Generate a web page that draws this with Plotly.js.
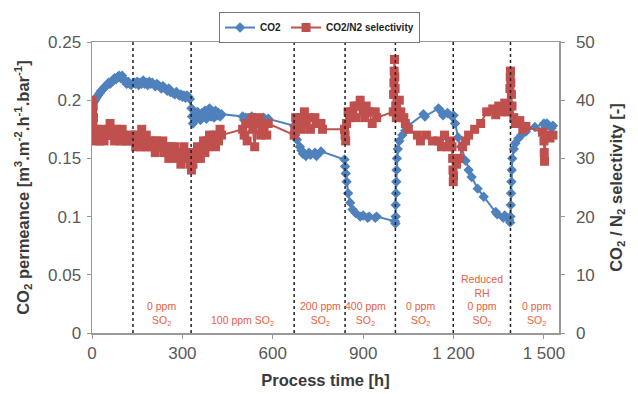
<!DOCTYPE html>
<html>
<head>
<meta charset="utf-8">
<script src="https://cdn.plot.ly/plotly-3.0.1.min.js"></script>
<style>html,body{margin:0;padding:0;background:#fff;}#chart{width:638px;height:394px;}</style>
</head>
<body>
<div id="chart"></div>
<script>
// CO2 permeance series (left axis)
const hoursCO2 = [0,5,10,15,20,25,30,35,40,45,50,55,60,65,70,75,80,85,90,95,100,105,110,115,120,125,130,140,145,150,155,160,165,170,175,180,185,190,195,200,210,215,220,230,235,240,250,255,260,270,275,280,290,295,300,305,310,315,320,325,330,332,335,340,345,350,355,360,365,370,375,380,385,390,395,400,405,410,415,420,425,430,500,505,510,530,535,540,555,560,570,580,585,671,675,680,690,695,700,710,720,725,740,745,760,838,840,842,845,850,857,865,875,890,900,915,920,940,945,1005,1007,1008,1008,1009,1010,1011,1012,1015,1020,1030,1040,1050,1100,1105,1150,1160,1165,1180,1195,1200,1205,1215,1225,1240,1250,1260,1280,1300,1340,1345,1365,1370,1385,1388,1389,1390,1391,1392,1393,1395,1400,1405,1415,1425,1440,1470,1500,1505,1510,1525,1530];
const co2Permeance = [0.195,0.198,0.200,0.202,0.204,0.206,0.208,0.209,0.211,0.212,0.213,0.215,0.214,0.216,0.217,0.219,0.218,0.220,0.221,0.219,0.221,0.218,0.216,0.214,0.216,0.214,0.213,0.215,0.214,0.216,0.213,0.215,0.214,0.217,0.214,0.215,0.213,0.216,0.214,0.215,0.212,0.214,0.213,0.210,0.212,0.211,0.208,0.210,0.207,0.206,0.205,0.207,0.204,0.205,0.203,0.204,0.202,0.204,0.203,0.201,0.193,0.186,0.180,0.188,0.184,0.190,0.185,0.183,0.189,0.186,0.191,0.184,0.188,0.193,0.186,0.190,0.185,0.191,0.187,0.189,0.186,0.188,0.186,0.183,0.185,0.186,0.183,0.185,0.184,0.182,0.185,0.182,0.184,0.178,0.170,0.166,0.160,0.157,0.154,0.152,0.155,0.153,0.155,0.152,0.156,0.149,0.143,0.137,0.130,0.120,0.112,0.106,0.103,0.100,0.101,0.099,0.100,0.099,0.100,0.096,0.094,0.100,0.110,0.120,0.130,0.140,0.150,0.158,0.165,0.170,0.174,0.178,0.188,0.186,0.193,0.190,0.187,0.189,0.186,0.187,0.180,0.168,0.160,0.148,0.140,0.134,0.124,0.117,0.104,0.102,0.099,0.101,0.097,0.095,0.100,0.110,0.120,0.130,0.140,0.150,0.158,0.163,0.167,0.170,0.173,0.177,0.180,0.177,0.180,0.176,0.178];

// CO2/N2 selectivity series (right axis)
const hoursSel = [0,2,3,4,5,6,8,10,15,20,25,30,35,40,45,50,55,60,65,70,75,80,85,90,95,100,105,110,120,130,136,140,145,150,155,160,165,170,175,180,185,190,200,205,210,215,220,230,235,240,250,255,260,270,275,280,290,295,300,305,310,315,320,325,328,330,332,335,340,345,350,355,360,365,370,375,380,385,390,395,400,405,410,415,420,425,430,500,505,510,515,530,535,540,545,555,560,565,575,580,585,671,673,676,680,690,695,700,705,710,720,725,740,745,760,765,838,840,842,845,850,855,860,870,875,880,890,900,905,910,920,930,940,945,1000,1001,1002,1003,1004,1005,1006,1008,1010,1020,1025,1035,1040,1050,1080,1090,1110,1130,1150,1160,1170,1180,1190,1195,1197,1198,1199,1200,1210,1220,1230,1240,1250,1270,1290,1310,1330,1340,1350,1360,1370,1380,1385,1387,1388,1389,1390,1392,1394,1400,1405,1420,1430,1440,1495,1500,1501,1502,1505,1520,1530];
const selectivity = [40,38,36,39,37,35,34,33,35,34,33,34,35,33,34,34,35,36,34,35,33,34,35,34,33,35,34,33,33,34,33,34,32,34,33,32,35,33,32,34,32,33,32,33,31,33,32,32,33,31,32,30,32,31,32,30,31,29,31,32,30,31,30,29,31,28,30,29,31,30,32,31,30,32,33,31,33,32,34,33,33,34,32,34,33,35,34,35,34,36,33,37,35,32,36,37,34,35,36,34,36,34,35,37,36,37,35,36,38,36,37,35,37,36,36,35,35,34,33,36,38,37,38,39,37,39,40,38,37,39,38,36,38,37,38,41,43,45,47,44,42,39,37,40,38,37,36,35,34,33,34,33,33,32,34,32,33,32,30,28,26,27,29,30,32,33,34,35,36,38,38.5,37.5,39,38,39.5,38,39,42,44,45,43,41,39,37,36,36.5,35,35.5,34.5,33,31,29.5,34,33.5,34];

// Period boundaries (hours) and period labels
const dividerHours = [136, 329, 671, 840, 1007, 1199, 1389];
const periodLabels = ["0 ppm<br>SO<sub>2</sub>", "100 ppm SO<sub>2</sub>", "200 ppm<br>SO<sub>2</sub>", "400 ppm<br>SO<sub>2</sub>", "0 ppm<br>SO<sub>2</sub>", "Reduced<br>RH<br>0 ppm<br>SO<sub>2</sub>", "0 ppm<br>SO<sub>2</sub>"];
const periodCenters = [232, 498, 757, 907, 1090, 1293, 1475];

const xTickVals = [0, 300, 600, 900, 1200, 1500];
const xTickText = ["0", "300", "600", "900", "1 200", "1 500"];

const blue = '#4f81bd', red = '#c0504d', labelRed = '#e8603f';

const traces = [
  {x: hoursCO2, y: co2Permeance, name: 'CO2', type: 'scatter', mode: 'lines+markers',
   line: {color: blue, width: 2}, marker: {symbol: 'diamond', size: 8, color: blue}},
  {x: hoursSel, y: selectivity, name: 'CO2/N2 selectivity', type: 'scatter', mode: 'lines+markers', yaxis: 'y2',
   line: {color: red, width: 2}, marker: {symbol: 'square', size: 9, color: red}}
];

const shapes = dividerHours.map(h => ({type: 'line', xref: 'x', yref: 'paper', x0: h, x1: h, y0: 0, y1: 1,
  line: {color: '#222', width: 1.5, dash: 'dot'}}));

const annotations = periodLabels.map((t, i) => ({x: periodCenters[i], xref: 'x', y: 0.01, yref: 'paper',
  yanchor: 'bottom', text: t, showarrow: false, font: {color: labelRed, size: 10.5, family: 'Liberation Sans, Arial, sans-serif'}}));

const axisFont = {family: 'Liberation Sans, Arial, sans-serif', size: 17, color: '#595959'};
const titleFont = {family: 'Liberation Sans, Arial, sans-serif', size: 16.5, color: '#3a3a3a', weight: 'bold'};

const layout = {
  width: 638, height: 394,
  margin: {l: 92, r: 79, t: 42, b: 61},
  paper_bgcolor: '#fff', plot_bgcolor: '#fff',
  font: {family: 'Liberation Sans, Arial, sans-serif'},
  showlegend: true,
  legend: {orientation: 'h', x: 0.272, xanchor: 'left', y: 1.103, yanchor: 'top',
    bordercolor: '#777', borderwidth: 1, bgcolor: '#fff',
    font: {size: 10, color: '#222', weight: 'bold'}, itemwidth: 30, tracegroupgap: 0},
  xaxis: {range: [0, 1550], tickvals: xTickVals, ticktext: xTickText, showgrid: false, zeroline: false,
    showline: true, linecolor: '#999', linewidth: 1.5, mirror: true, ticks: 'outside', ticklen: 4, tickcolor: '#999',
    tickfont: axisFont, title: {text: 'Process time [h]', font: titleFont, standoff: 12}},
  yaxis: {range: [0, 0.25], dtick: 0.05, showgrid: false, zeroline: false,
    showline: true, linecolor: '#999', linewidth: 1.5, ticks: 'outside', ticklen: 4, tickcolor: '#999',
    tickfont: axisFont, ticklabelstandoff: 2,
    title: {text: 'CO<sub>2</sub> permeance [m<sup>3</sup>.m<sup>-2</sup>.h<sup>-1</sup>.bar<sup>-1</sup>]', font: titleFont, standoff: 14}},
  yaxis2: {range: [0, 50], dtick: 10, overlaying: 'y', side: 'right', showgrid: false, zeroline: false,
    showline: true, linecolor: '#999', linewidth: 1.5, ticks: 'outside', ticklen: 4, tickcolor: '#999',
    tickfont: axisFont, ticklabelstandoff: 8,
    title: {text: 'CO<sub>2</sub> / N<sub>2</sub> selectivity [-]', font: titleFont, standoff: 16}},
  shapes: shapes,
  annotations: annotations
};

Plotly.newPlot('chart', traces, layout, {displayModeBar: false, staticPlot: true});
</script>
</body>
</html>
